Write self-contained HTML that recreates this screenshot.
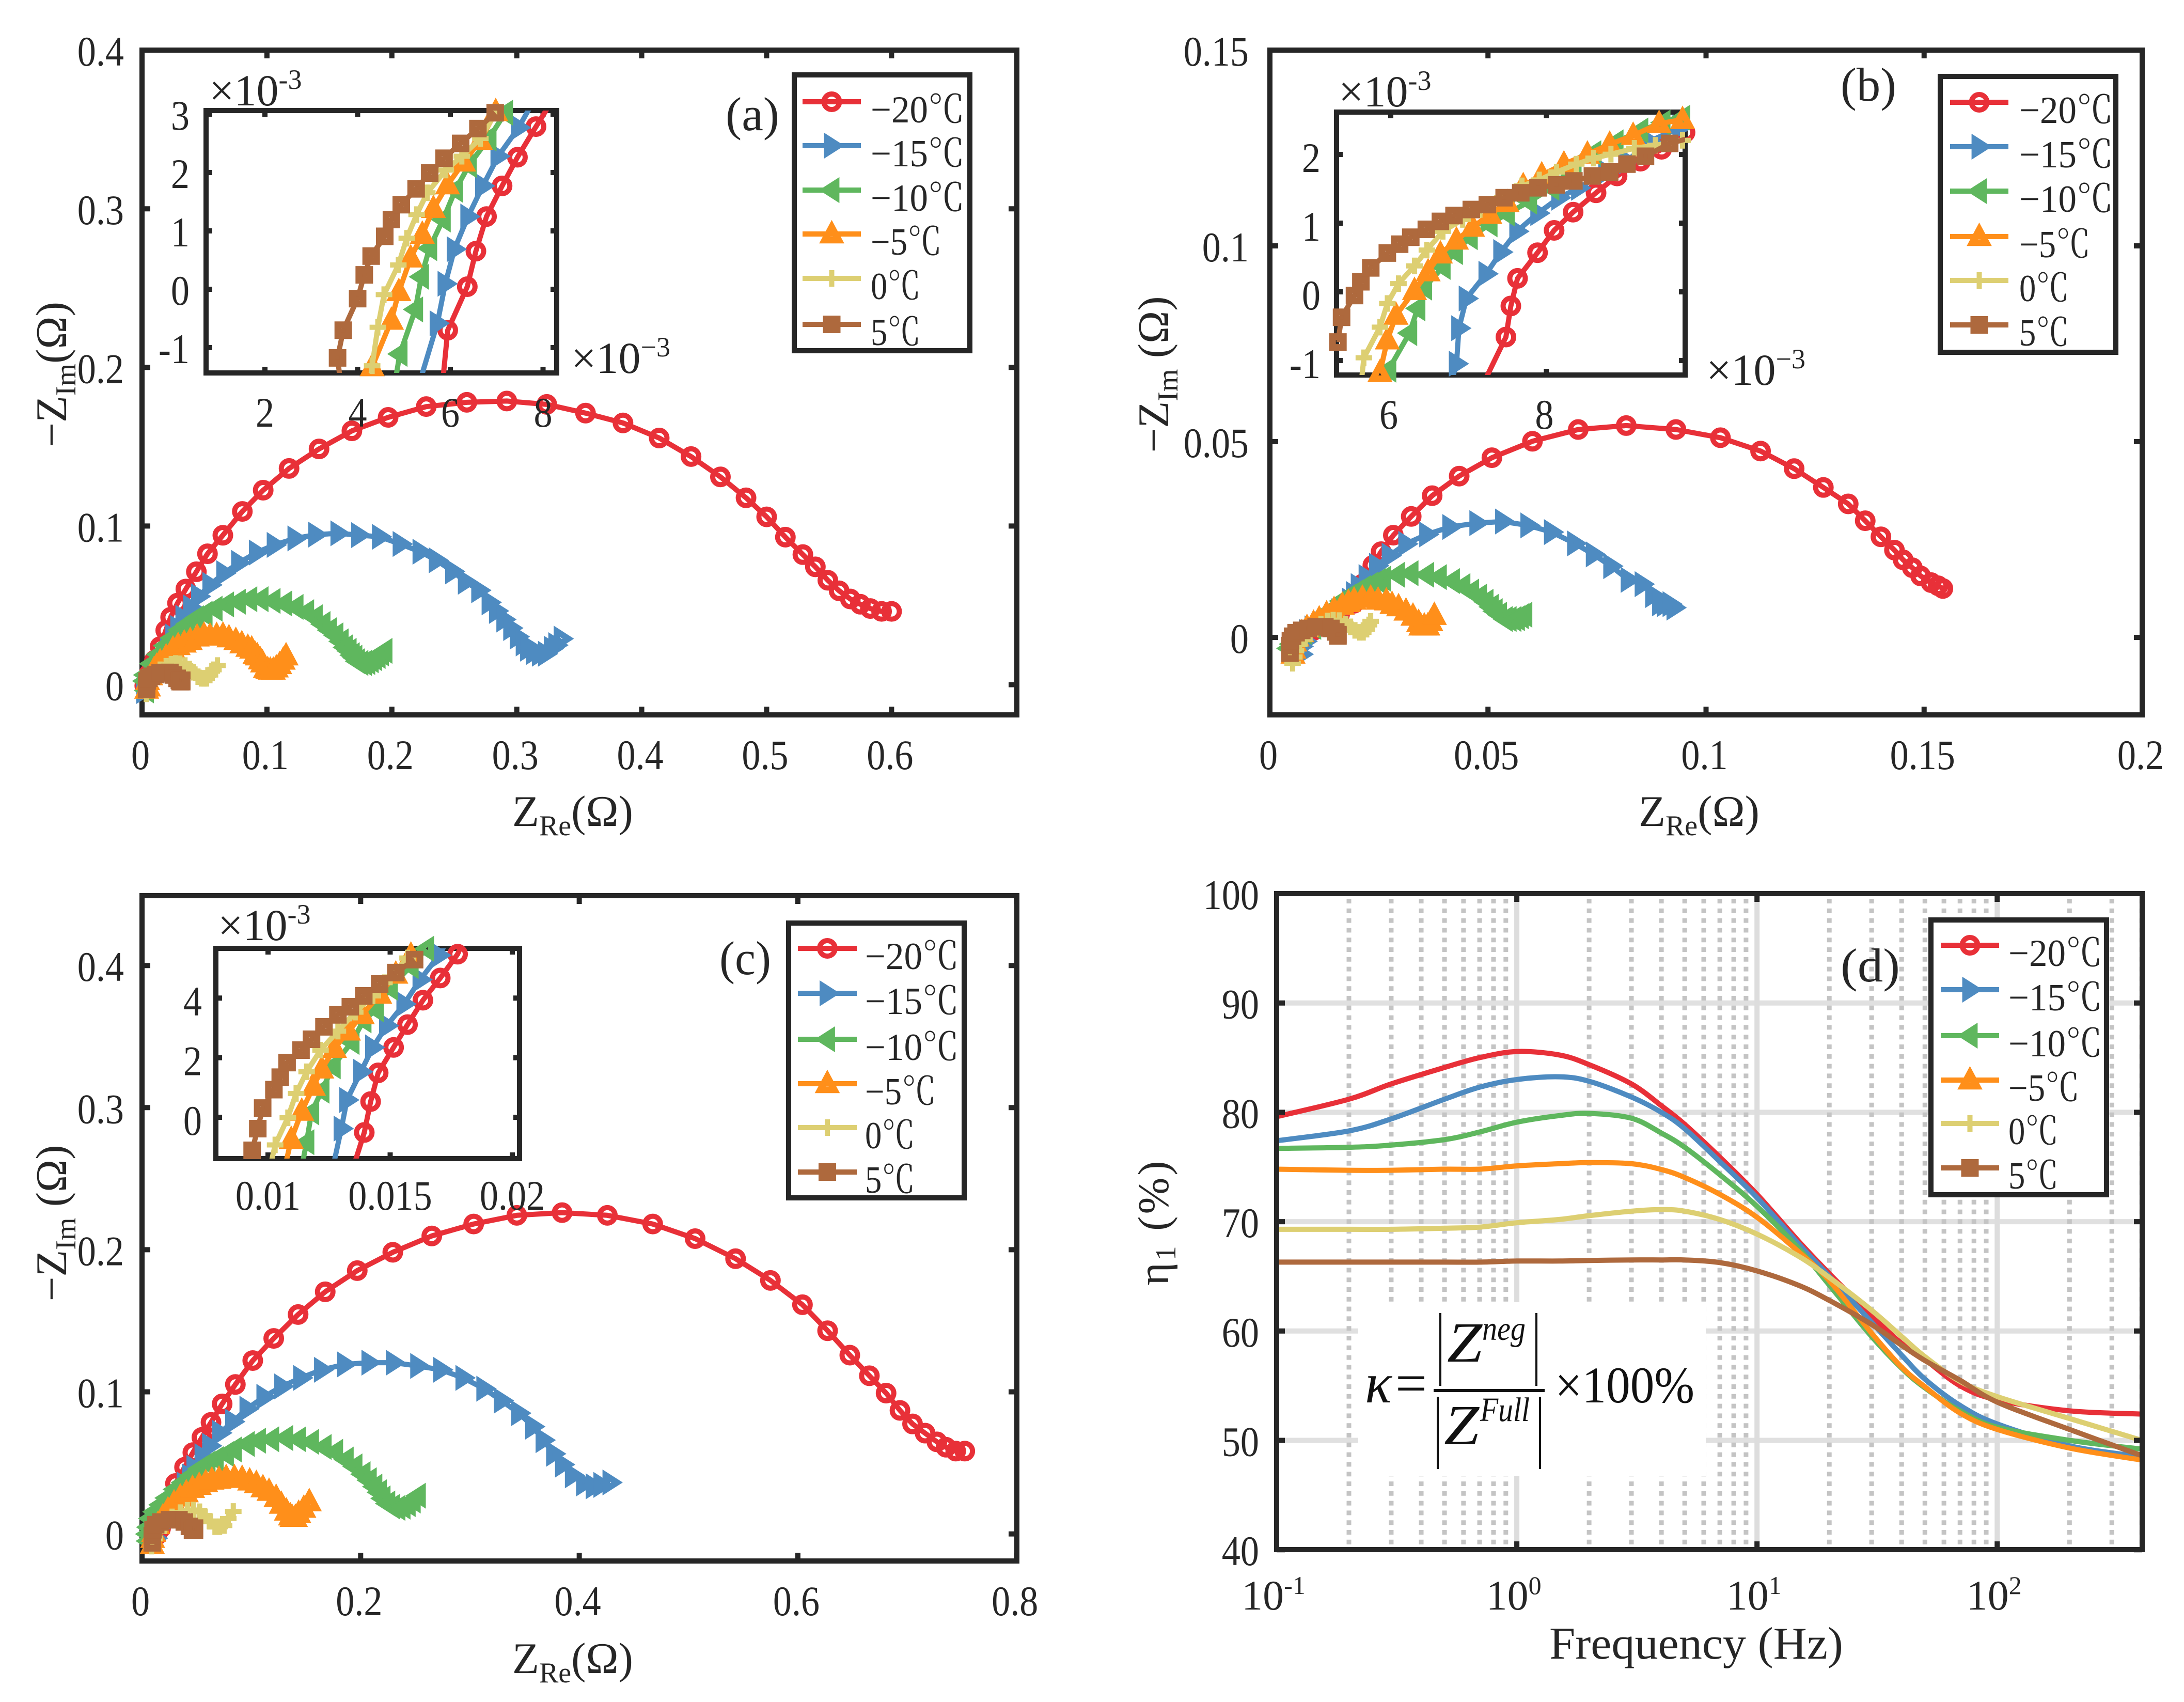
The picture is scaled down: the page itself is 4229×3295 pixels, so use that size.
<!DOCTYPE html>
<html lang="en">
<head>
<meta charset="utf-8">
<title>Impedance charts at six temperatures</title>
<style>
html,body{margin:0;padding:0;background:#fff}
svg{display:block}
text{font-family:"Liberation Serif","Noto Serif CJK SC",serif;fill:#262626}
</style>
</head>
<body>
<svg id="figure" xmlns="http://www.w3.org/2000/svg" width="4229" height="3295" viewBox="0 0 4229 3295">
<rect x="0" y="0" width="4229" height="3295" fill="#fff"/>
<g id="panel-a"></g>
<g id="panel-b"></g>
<g id="panel-c"></g>
<g id="panel-d"></g>
<g id="static-text" font-size="85">
  <text transform="translate(128,725) rotate(-90)" text-anchor="middle">−Z<tspan font-size="56" dy="18">Im</tspan><tspan dy="-18">(Ω)</tspan></text>
  <text x="1109" y="1599" text-anchor="middle">Z<tspan font-size="56" dy="18">Re</tspan><tspan dy="-18">(Ω)</tspan></text>
  <text x="1405" y="252" font-size="92" textLength="104" lengthAdjust="spacingAndGlyphs">(a)</text>
  <text x="405" y="204" font-size="86">×10<tspan font-size="54" dy="-32">-3</tspan></text>
  <text x="1106" y="722" font-size="86">×10<tspan font-size="54" dy="-32">−3</tspan></text>

  <text transform="translate(2262,725) rotate(-90)" text-anchor="middle">−Z<tspan font-size="56" dy="18">Im</tspan><tspan dy="-18"> (Ω)</tspan></text>
  <text x="3290" y="1599" text-anchor="middle">Z<tspan font-size="56" dy="18">Re</tspan><tspan dy="-18">(Ω)</tspan></text>
  <text x="3564" y="195" font-size="92" textLength="108" lengthAdjust="spacingAndGlyphs">(b)</text>
  <text x="2592" y="206" font-size="86">×10<tspan font-size="54" dy="-32">-3</tspan></text>
  <text x="3304" y="745" font-size="86">×10<tspan font-size="54" dy="-32">−3</tspan></text>

  <text transform="translate(128,2368) rotate(-90)" text-anchor="middle">−Z<tspan font-size="56" dy="18">Im</tspan><tspan dy="-18"> (Ω)</tspan></text>
  <text x="1109" y="3239" text-anchor="middle">Z<tspan font-size="56" dy="18">Re</tspan><tspan dy="-18">(Ω)</tspan></text>
  <text x="1393" y="1886" font-size="92" textLength="100" lengthAdjust="spacingAndGlyphs">(c)</text>
  <text x="422" y="1820" font-size="86">×10<tspan font-size="54" dy="-32">-3</tspan></text>

  <text transform="translate(2262,2366) rotate(-90)" text-anchor="middle" letter-spacing="4">η<tspan font-size="56" dy="14">1</tspan><tspan dy="-14">  (%)</tspan></text>
  <text x="3000" y="3211" font-size="88" textLength="569" lengthAdjust="spacingAndGlyphs">Frequency (Hz)</text>
  <text x="3564" y="1900" font-size="92" textLength="115" lengthAdjust="spacingAndGlyphs">(d)</text>
</g>
</svg>
<script>
/* ---------- series styling ---------- */
const seriesKeys = ['minus-20c','minus-15c','minus-10c','minus-5c','zero-c','plus-5c'];
const seriesLabels = ['−20℃','−15℃','−10℃','−5℃','0℃','5℃'];
const seriesColors = ['#e83038','#4e8bc1','#5fb75e','#ff8f1a','#ddcf72','#ae693d'];
const seriesMarkers = ['circle','triR','triL','triU','plus','square'];
const legendLabelWidths = [182,182,182,138,97,97];

/* ---------- panel (a) main ---------- */
const aXTicks = [0,0.1,0.2,0.3,0.4,0.5,0.6];
const aXTickLabels = ['0','0.1','0.2','0.3','0.4','0.5','0.6'];
const aYTicks = [0,0.1,0.2,0.3,0.4];
const aYTickLabels = ['0','0.1','0.2','0.3','0.4'];
const aRedX = [0.0022,0.0056,0.010,0.0145,0.019,0.0229,0.0284,0.0351,0.0435,0.0524,0.0647,0.0803,0.097,0.1177,0.1417,0.168,0.197,0.2275,0.26,0.292,0.324,0.355,0.385,0.414,0.4395,0.463,0.4835,0.5,0.515,0.529,0.539,0.549,0.558,0.567,0.575,0.583,0.592,0.600];
const aRedY = [-0.0007,0.0068,0.0154,0.024,0.0342,0.0425,0.0514,0.0603,0.0712,0.0825,0.0942,0.1092,0.1226,0.1363,0.1486,0.16,0.1685,0.1753,0.178,0.1788,0.1767,0.1712,0.165,0.1555,0.1438,0.131,0.1178,0.1058,0.093,0.082,0.0743,0.0658,0.0592,0.054,0.0507,0.048,0.0462,0.0462];
const aBlueX = [0.0015,0.0075,0.0146,0.0205,0.0248,0.0288,0.0329,0.039,0.0454,0.0545,0.0656,0.0775,0.0917,0.106,0.1226,0.1392,0.157,0.1736,0.1902,0.2068,0.2227,0.2357,0.2488,0.259,0.2697,0.278,0.2839,0.2898,0.2953,0.3005,0.3053,0.3088,0.3136,0.3183,0.3231,0.3278,0.3314,0.3357];
const aBlueY = [-0.004,0.0033,0.0119,0.0211,0.0303,0.0357,0.0422,0.0487,0.0557,0.0629,0.0703,0.0768,0.0833,0.0881,0.0922,0.0946,0.0954,0.0943,0.0932,0.0887,0.0838,0.0784,0.0714,0.0649,0.0595,0.0519,0.0465,0.0411,0.0357,0.0303,0.026,0.0227,0.0206,0.0195,0.0195,0.0227,0.0249,0.029];
const aGreenX = [0.0034,0.0021,0.0028,0.0076,0.0131,0.0186,0.0241,0.0303,0.0365,0.0434,0.0503,0.0583,0.0675,0.0769,0.0861,0.0951,0.1047,0.114,0.1231,0.1316,0.1385,0.1447,0.1499,0.155,0.1592,0.1626,0.1656,0.1681,0.1702,0.1723,0.175,0.1778,0.1805,0.1833,0.186,0.1888,0.1915,0.1943];
const aGreenY = [-0.0036,0.0023,0.0061,0.0132,0.0191,0.0246,0.0295,0.0344,0.0382,0.0419,0.0447,0.0479,0.0506,0.0523,0.0539,0.0539,0.0528,0.0512,0.049,0.0457,0.0425,0.0382,0.0344,0.0311,0.0273,0.0235,0.0213,0.0186,0.017,0.0148,0.0137,0.0137,0.0143,0.0154,0.0167,0.0181,0.0197,0.0213];
const aOrangeX = [0.0037,0.0052,0.0045,0.0069,0.0096,0.0117,0.0145,0.0193,0.0248,0.0289,0.0338,0.0386,0.0441,0.0496,0.0544,0.0597,0.0648,0.0696,0.0751,0.0799,0.0847,0.0878,0.0905,0.0923,0.0947,0.0965,0.0988,0.1006,0.1027,0.1051,0.1075,0.1102,0.113,0.1153];
const aOrangeY = [-0.0029,-0.0015,0.0025,0.0056,0.0094,0.0116,0.0143,0.0175,0.0224,0.0246,0.0262,0.0278,0.03,0.0311,0.0306,0.0309,0.0311,0.0295,0.0278,0.0257,0.0235,0.0224,0.0191,0.0181,0.0156,0.0137,0.0102,0.0094,0.0091,0.0091,0.0105,0.0126,0.0154,0.0181];
const aYellowX = [0.0034,0.0041,0.0048,0.0076,0.011,0.0145,0.0193,0.0234,0.0269,0.0303,0.0344,0.0379,0.0413,0.0448,0.0475,0.0496,0.0517,0.0544,0.0572,0.0604];
const aYellowY = [-0.0058,-0.0025,0.0001,0.004,0.0072,0.0094,0.0116,0.0129,0.0134,0.0132,0.0121,0.0099,0.0078,0.005,0.004,0.004,0.004,0.0061,0.0094,0.0121];
const aBrownX = [0.0036,0.0037,0.0041,0.0054,0.0076,0.011,0.0145,0.0186,0.0223,0.0252,0.0281,0.0299,0.0305,0.0318,0.0318];
const aBrownY = [-0.003,-0.0004,0.0023,0.004,0.0053,0.0064,0.0074,0.0077,0.0077,0.0061,0.004,0.0027,0.0019,0.0019,0.0028];

/* ---------- panel (a) inset, ×10^-3 ---------- */
const aiXTicks = [2,4,6,8];
const aiXTickLabels = ['2','4','6','8'];
const aiYTicks = [-1,0,1,2,3];
const aiYTickLabels = ['-1','0','1','2','3'];
const aiRedX = [5.82,5.944,6.366,6.552,6.781,7.117,7.448,7.848,8.167];
const aiRedY = [-1.72,-0.701,0.044,0.653,1.246,1.771,2.262,2.787,3.194];
const aiBlueX = [5.289,5.72,5.891,6.088,6.382,6.701,7.032,7.474,7.82];
const aiBlueY = [-1.72,-0.583,0.094,0.687,1.246,1.771,2.279,2.77,3.261];
const aiGreenX = [4.78,4.91,5.246,5.374,5.55,5.843,6.11,6.403,6.83,7.186,7.45];
const aiGreenY = [-1.72,-1.108,-0.346,0.213,0.704,1.195,1.703,2.127,2.584,3.024,3.3];
const aiOrangeX = [4.25,4.313,4.729,4.889,5.145,5.395,5.635,5.939,6.286,6.648,6.979];
const aiOrangeY = [-1.7,-1.328,-0.532,-0.041,0.535,0.941,1.382,1.788,2.178,2.55,3.041];
const aiYellowX = [4.25,4.313,4.436,4.569,4.878,5.06,5.273,5.502,5.902,6.248,6.648,6.979];
const aiYellowY = [-1.7,-1.311,-0.651,-0.092,0.416,0.874,1.28,1.653,2.042,2.279,2.584,3.024];
const aiBrownX = [3.65,3.567,3.69,4.0,4.143,4.292,4.585,4.729,4.942,5.262,5.555,5.864,6.222,6.595,6.968];
const aiBrownY = [-1.72,-1.176,-0.701,-0.16,0.247,0.569,0.907,1.195,1.449,1.72,1.991,2.245,2.499,2.753,3.024];

/* ---------- panel (b) main ---------- */
const bXTicks = [0,0.05,0.1,0.15,0.2];
const bXTickLabels = ['0','0.05','0.1','0.15','0.2'];
const bYTicks = [0,0.05,0.1,0.15];
const bYTickLabels = ['0','0.05','0.1','0.15'];
const bRedX = [0.010,0.013,0.016,0.0192,0.0212,0.0236,0.0255,0.0283,0.0324,0.0372,0.0434,0.0509,0.0602,0.0707,0.0817,0.0931,0.1033,0.1125,0.1202,0.1269,0.1326,0.1365,0.1401,0.1432,0.1452,0.1473,0.1492,0.1516,0.1532,0.1543];
const bRedY = [0.0018,0.0035,0.006,0.0087,0.0136,0.0184,0.0219,0.0261,0.0309,0.0362,0.0412,0.0459,0.0501,0.0531,0.0541,0.0531,0.051,0.0476,0.0431,0.0383,0.0341,0.0298,0.0257,0.0223,0.0198,0.0178,0.0157,0.014,0.0132,0.0125];
const bBlueX = [0.0072,0.0072,0.0081,0.0084,0.0097,0.0122,0.0139,0.0159,0.0183,0.0192,0.0203,0.0221,0.0245,0.0274,0.0312,0.036,0.0413,0.0475,0.0534,0.0592,0.0646,0.0699,0.0742,0.0782,0.0822,0.0854,0.0878,0.0894,0.0905,0.0918,0.0927];
const bBlueY = [-0.0043,-0.0023,-0.001,0.0014,0.0023,0.0034,0.0043,0.0067,0.0094,0.0111,0.0131,0.0154,0.0183,0.0209,0.0239,0.0263,0.0282,0.0292,0.0296,0.0286,0.0269,0.024,0.0212,0.0182,0.0147,0.0136,0.0108,0.0087,0.0085,0.0085,0.0076];
const bGreenX = [0.0043,0.0049,0.0062,0.0079,0.01,0.0121,0.0142,0.0164,0.018,0.0197,0.0214,0.0231,0.0248,0.026,0.0292,0.0323,0.0359,0.0388,0.0418,0.0442,0.0462,0.048,0.0495,0.0507,0.0516,0.0526,0.0539,0.0548,0.0559,0.0567,0.0576,0.0584];
const bGreenY = [-0.0028,-0.0017,0.0001,0.0014,0.0027,0.0049,0.0071,0.0093,0.0104,0.0115,0.0126,0.0135,0.0144,0.015,0.016,0.0164,0.016,0.0154,0.0144,0.0131,0.0117,0.0104,0.0091,0.0078,0.0067,0.0058,0.0047,0.0047,0.0047,0.0049,0.0054,0.0058];
const bOrangeX = [0.0053,0.0055,0.0057,0.0062,0.0073,0.0085,0.01,0.0113,0.013,0.0147,0.0166,0.018,0.0193,0.0212,0.0231,0.0248,0.0267,0.028,0.0295,0.0312,0.0328,0.0341,0.0346,0.0354,0.0362,0.0369,0.0377];
const bOrangeY = [-0.0043,-0.003,-0.0012,0.0001,0.0012,0.0025,0.0036,0.0047,0.006,0.0071,0.0082,0.0089,0.0095,0.01,0.01,0.0095,0.0093,0.0084,0.0078,0.0067,0.0054,0.0038,0.0029,0.0029,0.0029,0.004,0.0056];
const bYellowX = [0.0052,0.0056,0.006,0.0068,0.0079,0.0092,0.0104,0.0117,0.0132,0.0145,0.0159,0.0174,0.0185,0.0195,0.0206,0.0214,0.0222,0.0227,0.0231];
const bYellowY = [-0.0066,-0.005,-0.0034,-0.0017,-0.0004,0.001,0.0023,0.0034,0.0042,0.0044,0.0043,0.0034,0.0027,0.0018,0.0013,0.0013,0.0021,0.0032,0.0041];
const bBrownX = [0.0046,0.0046,0.0047,0.0052,0.006,0.0073,0.0088,0.0106,0.0126,0.014,0.0151,0.0156,0.0156];
const bBrownY = [-0.004,-0.0021,-0.0008,0.0003,0.0012,0.0018,0.0023,0.0027,0.0027,0.0023,0.0014,0.0004,0.0007];

/* ---------- panel (b) inset, ×10^-3 ---------- */
const biXTicks = [6,8];
const biXTickLabels = ['6','8'];
const biYTicks = [-1,0,1,2];
const biYTickLabels = ['-1','0','1','2'];
const biRedX = [7.178,7.48,7.543,7.629,7.886,8.099,8.343,8.638,8.908,9.21,9.48,9.781];
const biRedY = [-1.363,-0.658,-0.206,0.196,0.57,0.895,1.16,1.442,1.687,1.902,2.075,2.32];
const biBlueX = [6.765,6.845,6.876,6.972,7.226,7.416,7.622,7.892,8.162,8.416,8.765,9.035,9.321,9.718,9.94];
const biBlueY = [-1.363,-1.046,-0.529,-0.097,0.263,0.579,0.881,1.146,1.37,1.514,1.744,1.902,2.19,2.392,2.49];
const biGreenX = [5.9,5.972,6.241,6.346,6.432,6.67,6.829,7.019,7.273,7.495,7.781,8.067,8.353,8.606,8.892,9.21,9.495,9.749];
const biGreenY = [-1.4,-1.133,-0.601,-0.241,0.061,0.363,0.579,0.795,0.982,1.14,1.313,1.514,1.83,2.018,2.176,2.348,2.463,2.535];
const biOrangeX = [5.861,5.956,6.067,6.305,6.48,6.638,6.844,7.051,7.273,7.495,7.702,7.94,8.225,8.527,8.813,9.114,9.448,9.749];
const biOrangeY = [-1.176,-0.701,-0.342,0.018,0.291,0.55,0.752,0.939,1.126,1.298,1.543,1.701,1.859,2.003,2.147,2.276,2.449,2.507];
const biYellowX = [5.62,5.654,5.861,5.956,6.099,6.305,6.464,6.67,6.924,7.146,7.432,7.686,7.908,8.13,8.384,8.606,8.829,9.13,9.4,9.749];
const biYellowY = [-1.34,-0.96,-0.514,-0.169,0.119,0.378,0.608,0.881,1.054,1.198,1.37,1.543,1.629,1.744,1.859,1.946,2.003,2.09,2.133,2.205];
const biBrownX = [5.321,5.368,5.534,5.616,5.743,5.956,6.114,6.257,6.457,6.638,6.813,7.035,7.241,7.457,7.67,7.892,8.13,8.353,8.591,8.813,9.035,9.273,9.584,9.877];
const biBrownY = [-0.73,-0.37,-0.054,0.147,0.349,0.565,0.694,0.795,0.91,1.025,1.111,1.198,1.27,1.37,1.442,1.514,1.557,1.615,1.687,1.744,1.859,1.974,2.161,2.248];

/* ---------- panel (c) main ---------- */
const cXTicks = [0,0.2,0.4,0.6,0.8];
const cXTickLabels = ['0','0.2','0.4','0.6','0.8'];
const cYTicks = [0,0.1,0.2,0.3,0.4];
const cYTickLabels = ['0','0.1','0.2','0.3','0.4'];
const cRedX = [0.0135,0.017,0.020,0.025,0.0306,0.0389,0.0465,0.0548,0.0631,0.0733,0.0854,0.1013,0.1205,0.1428,0.1676,0.1969,0.2294,0.2651,0.3034,0.3429,0.3843,0.4257,0.4672,0.506,0.543,0.5749,0.6042,0.6272,0.6475,0.6654,0.6807,0.6934,0.7049,0.7164,0.7272,0.7355,0.7444,0.7527];
const cRedY = [-0.001,0.004,0.010,0.018,0.0355,0.0469,0.0572,0.0679,0.0785,0.0915,0.1052,0.122,0.1376,0.1544,0.1704,0.1853,0.1982,0.2097,0.2181,0.2242,0.2261,0.2242,0.2181,0.2078,0.1937,0.1784,0.1613,0.143,0.1258,0.1113,0.0991,0.0869,0.0774,0.0709,0.0648,0.061,0.0583,0.0583];
const cBlueX = [0.0125,0.015,0.018,0.022,0.027,0.0327,0.0387,0.0434,0.0477,0.0551,0.062,0.0713,0.0831,0.0962,0.1117,0.128,0.1453,0.1644,0.1855,0.2078,0.2301,0.2524,0.2734,0.2938,0.3129,0.3289,0.3448,0.3576,0.3671,0.3767,0.3849,0.3939,0.4041,0.413,0.42,0.4283];
const cBlueY = [-0.003,0.004,0.010,0.017,0.021,0.0257,0.0348,0.0405,0.0465,0.0547,0.062,0.0711,0.079,0.0881,0.0965,0.1038,0.1098,0.1155,0.1193,0.1205,0.1205,0.1182,0.1155,0.1098,0.1022,0.0938,0.085,0.0755,0.066,0.0564,0.0488,0.0412,0.0355,0.0335,0.0345,0.0362];
const cGreenX = [0.0056,0.0051,0.006,0.0078,0.0116,0.0172,0.0228,0.0303,0.0378,0.0452,0.0527,0.0602,0.0677,0.077,0.0843,0.0961,0.1063,0.1184,0.1312,0.1431,0.1549,0.1664,0.1769,0.1866,0.1946,0.202,0.2077,0.2128,0.2169,0.2203,0.2246,0.2292,0.2339,0.2386,0.2433,0.2479,0.2526];
const cGreenY = [-0.005,-0.0001,0.0047,0.0108,0.0156,0.0205,0.0253,0.0314,0.0362,0.0411,0.0459,0.0495,0.0526,0.0562,0.0594,0.0633,0.0656,0.0666,0.0675,0.0666,0.0648,0.0612,0.0578,0.0523,0.0475,0.042,0.0378,0.0333,0.0293,0.025,0.0214,0.0192,0.0183,0.0192,0.021,0.0235,0.0269];
const cOrangeX = [0.0094,0.0097,0.0107,0.0144,0.0191,0.0237,0.0293,0.035,0.0405,0.0462,0.0523,0.0583,0.0639,0.0704,0.077,0.0845,0.0916,0.0985,0.1046,0.1106,0.1162,0.1227,0.1274,0.1321,0.1358,0.1373,0.1403,0.1433,0.148,0.153];
const cOrangeY = [-0.0074,-0.0032,0.0011,0.0065,0.012,0.0168,0.0217,0.0259,0.0289,0.032,0.0341,0.036,0.0378,0.0384,0.0396,0.0396,0.039,0.0372,0.0354,0.0324,0.0299,0.0257,0.0208,0.016,0.0126,0.0116,0.0116,0.0144,0.018,0.0226];
const cYellowX = [0.0088,0.0116,0.0153,0.0209,0.0275,0.035,0.0415,0.0471,0.0527,0.0574,0.062,0.0667,0.071,0.0751,0.0789,0.0835];
const cYellowY = [-0.0086,-0.0032,0.0017,0.0071,0.012,0.015,0.0166,0.0168,0.0156,0.0126,0.0089,0.0051,0.0051,0.0059,0.0108,0.0158];
const cBrownX = [0.0094,0.0094,0.0101,0.0125,0.0172,0.0252,0.0338,0.0387,0.0434,0.0462,0.048,0.048];
const cBrownY = [-0.0063,-0.0013,0.0029,0.0065,0.0084,0.01,0.01,0.0084,0.0053,0.0027,0.0027,0.0041];

/* ---------- panel (c) inset, ×10^-3 ---------- */
const ciXTicks = [10,15,20];
const ciXTickLabels = ['0.01','0.015','0.02'];
const ciYTicks = [0,2,4];
const ciYTickLabels = ['0','2','4'];
const ciRedX = [13.29,13.94,14.2,14.51,15.14,15.71,16.34,17.05,17.76,18.13];
const ciRedY = [-2.2,-0.51,0.527,1.491,2.345,3.109,3.927,4.672,5.472,6.16];
const ciBlueX = [12.52,13.0,13.23,13.8,14.29,14.86,15.57,16.23,17.0,17.5];
const ciBlueY = [-2.2,-0.38,0.58,1.527,2.345,3.072,3.8,4.618,5.436,6.16];
const ciGreenX = [11.3,11.58,11.78,12.2,12.66,13.43,13.92,14.43,15.0,15.85,16.48];
const ciGreenY = [-2.0,-0.836,0.164,0.89,1.709,2.527,3.254,3.618,4.345,5.072,5.654];
const ciOrangeX = [10.6,10.95,11.38,11.86,12.2,12.72,13.29,13.86,14.57,15.23,15.85];
const ciOrangeY = [-2.0,-0.745,0.2,1.036,1.618,2.309,2.89,3.436,4.127,4.8,5.436];
const ciYellowX = [10.0,10.29,10.81,11.15,11.58,12.15,12.86,13.57,14.29,15,15.71];
const ciYellowY = [-2.0,-0.927,-0.018,0.8,1.527,2.254,2.89,3.527,4.072,4.708,5.345];
const ciBrownX = [9.2,9.35,9.58,9.78,10.24,10.5,10.78,11.35,11.78,12.29,12.86,13.37,13.92,14.57,15.23,16.0];
const ciBrownY = [-2.0,-1.109,-0.382,0.309,0.927,1.345,1.836,2.254,2.618,3.036,3.436,3.709,4.072,4.472,4.854,5.29];

/* ---------- panel (d) ---------- */
const dFrequency = [0.1,0.2,0.3,0.5,0.7,1,1.5,2,3,4,5,7,10,15,20,30,40,50,70,100,200,400];
const dRed = [79.6,81.2,82.6,84.1,85.0,85.56,85.25,84.36,82.6,80.6,78.9,75.9,72.5,68.14,65.25,61.4,58.86,57.4,55,53.7,52.7,52.4];
const dBlue = [77.4,78.3,79.4,81.2,82.3,83.0,83.25,82.84,81.4,80.0,78.5,75.5,72.2,67.9,65,60.8,57.8,55.6,53.2,51.5,49.5,48.5];
const dGreen = [76.7,76.8,77,77.5,78.2,79.1,79.7,79.9,79.46,78.1,76.8,74.3,71.4,67.5,64.2,59.5,56.6,54.8,52.7,51.2,50,49.2];
const dOrange = [74.8,74.7,74.7,74.8,74.8,75.1,75.3,75.4,75.3,74.77,74.04,72.5,70.4,67.2,64.6,59.8,56.7,54.9,52.5,51,49.3,48.2];
const dYellow = [69.3,69.3,69.3,69.4,69.5,69.9,70.2,70.55,70.96,71.1,70.96,70.2,68.86,66.8,64.9,61.9,59.5,57.65,55.4,54,52,50];
const dBrown = [66.3,66.3,66.3,66.3,66.3,66.4,66.4,66.45,66.5,66.5,66.5,66.26,65.5,64.15,62.8,60.6,58.7,57.3,55.5,53.5,51,48.6];
const dYTicks = [40,50,60,70,80,90,100];
const dYTickLabels = ['40','50','60','70','80','90','100'];
const dXDecades = [-1,0,1,2];
const dXExponentLabels = ['-1','0','1','2'];
const dMinorMultipliers = [2,3,4,5,6,7,8,9];

/* ---------- drawing helpers ---------- */
const SVGNS = 'http://www.w3.org/2000/svg';
const AXIS = '#262626';
const MARKER_PATHS = {
  triR:'M-8.9,-14.2L13.3,0L-8.9,14.2Z',
  triL:'M8.9,-14.2L-13.3,0L8.9,14.2Z',
  triU:'M0,-13.5L13.5,11.8L-13.5,11.8Z',
  plus:'M-16,0H16M0,-16V16',
  square:'M-10.5,-10.5H10.5V10.5H-10.5Z'
};
const MARKER_STROKES = {triR:12, triL:12, triU:13, plus:10, square:13};
function linear(d0, r0, k){ return v => r0 + (v - d0) * k; }
function make(tag, parent, attrs){
  const el = document.createElementNS(SVGNS, tag);
  for (const k in attrs) el.setAttribute(k, attrs[k]);
  parent.appendChild(el);
  return el;
}
function addMarker(parent, idx, cx, cy, name){
  const type = seriesMarkers[idx];
  const color = seriesColors[idx];
  let el;
  if (type === 'circle') {
    el = make('ellipse', parent, {cx:0, cy:0, rx:15, ry:15, fill:'none', stroke:color, 'stroke-width':10});
  } else {
    el = make('path', parent, {d:MARKER_PATHS[type], fill:'none', stroke:color, 'stroke-width':MARKER_STROKES[type], 'stroke-miterlimit':10});
  }
  el.setAttribute('transform', 'translate(' + cx + ',' + cy + ')');
  
  
}
function drawAxesBox(g, frame, xTicks, yTicks, xf, yf, tickLen, sw, prefix){
  const box = make('rect', g, {x:frame[0], y:frame[1], width:frame[2]-frame[0], height:frame[3]-frame[1], fill:'none', stroke:AXIS, 'stroke-width':sw});
  
  
  xTicks.forEach(v => {
    const px = xf(v);
    const t = make('path', g, {d:'M'+px+','+frame[3]+'v'+(-tickLen)+'M'+px+','+frame[1]+'v'+tickLen, stroke:AXIS, 'stroke-width':sw, fill:'none'});
    
    
  });
  yTicks.forEach(v => {
    const py = yf(v);
    const t = make('path', g, {d:'M'+frame[0]+','+py+'h'+tickLen+'M'+frame[2]+','+py+'h'+(-tickLen), stroke:AXIS, 'stroke-width':sw, fill:'none'});
    
    
  });
}
function labelWidth(s, size){
  let em = 0;
  for (const ch of s) em += ch === '.' ? 0.25 : (ch === '-' ? 0.333 : 0.5);
  return em * size * 0.88;
}
function drawTickText(g, values, labels, fx, fy, anchor, prefix){
  values.forEach((v, i) => {
    const t = make('text', g, {x:fx(v), y:fy(v), 'text-anchor':anchor, 'font-size':82, textLength:labelWidth(labels[i], 82).toFixed(1), lengthAdjust:'spacingAndGlyphs'});
    t.textContent = labels[i];
    
    
  });
}
function drawSeries(g, xs, ys, xf, yf, idx, prefix, frame, clipId){
  const key = prefix + '-' + seriesKeys[idx];
  let d = '';
  xs.forEach((v, i) => { d += (i ? 'L' : 'M') + xf(v).toFixed(1) + ',' + yf(ys[i]).toFixed(1); });
  const line = make('path', g, {d:d, fill:'none', stroke:seriesColors[idx], 'stroke-width':10, 'stroke-linejoin':'round'});
  if (clipId) line.setAttribute('clip-path', 'url(#' + clipId + ')');
  
  
  xs.forEach((v, i) => {
    const px = xf(v), py = yf(ys[i]);
    if (frame && (px < frame[0]-1 || px > frame[2]+1 || py < frame[1]-1 || py > frame[3]+1)) return;
    addMarker(g, idx, px, py, key);
  });
}
function drawLegend(g, box, lineX0, lineX1, textX, rows, prefix){
  const r = make('rect', g, {x:box[0], y:box[1], width:box[2]-box[0], height:box[3]-box[1], fill:'#fff', stroke:AXIS, 'stroke-width':10});
  
  
  rows.forEach((y, i) => {
    const l = make('line', g, {x1:lineX0, x2:lineX1, y1:y, y2:y, stroke:seriesColors[i], 'stroke-width':10});
    
    
    addMarker(g, i, (lineX0 + lineX1) / 2, y, prefix + '-legend');
    const t = make('text', g, {x:textX, y:y + 40, 'font-size':74, textLength:legendLabelWidths[i], lengthAdjust:'spacingAndGlyphs'});
    t.textContent = seriesLabels[i];
    
    
  });
}
function addClip(svg, id, frame){
  const cp = make('clipPath', svg, {id:id});
  make('rect', cp, {x:frame[0], y:frame[1], width:frame[2]-frame[0], height:frame[3]-frame[1]});
}

const figure = document.getElementById('figure');

/* ---------- panel (a) ---------- */
(function(){
  const g = document.getElementById('panel-a');
  const frame = [275,97,1969,1384];
  const x = linear(0,275,2419), y = linear(0,1325.5,-3071);
  drawAxesBox(g, frame, aXTicks, aYTicks, x, y, 16, 10, 'panel-a');
  drawTickText(g, aXTicks, aXTickLabels, v => x(v) - 3, () => 1489, 'middle', 'panel-a-x');
  drawTickText(g, aYTicks, aYTickLabels, () => 240, v => y(v) + 30, 'end', 'panel-a-y');
  [[aRedX,aRedY],[aBlueX,aBlueY],[aGreenX,aGreenY],[aOrangeX,aOrangeY],[aYellowX,aYellowY],[aBrownX,aBrownY]]
    .forEach((s,i) => drawSeries(g, s[0], s[1], x, y, i, 'panel-a', null, null));
  const inF = [399,214,1078,722];
  const ix = linear(2,513,89.75), iy = linear(0,560,-113);
  addClip(figure, 'clip-a', inF);
  drawAxesBox(g, inF, aiXTicks, aiYTicks, ix, iy, 12, 10, 'panel-a-inset');
  drawTickText(g, aiXTicks, aiXTickLabels, v => ix(v), () => 826, 'middle', 'panel-a-inset-x');
  drawTickText(g, aiYTicks, aiYTickLabels, () => 367, v => iy(v) + 30, 'end', 'panel-a-inset-y');
  [[aiRedX,aiRedY],[aiBlueX,aiBlueY],[aiGreenX,aiGreenY],[aiOrangeX,aiOrangeY],[aiYellowX,aiYellowY],[aiBrownX,aiBrownY]]
    .forEach((s,i) => drawSeries(g, s[0], s[1], ix, iy, i, 'panel-a-inset', inF, 'clip-a'));
  drawLegend(g, [1538,145,1878,679], 1554, 1667, 1686, [197,282,368,453,539,628], 'panel-a');
})();

/* ---------- panel (b) ---------- */
(function(){
  const g = document.getElementById('panel-b');
  const frame = [2459,97,4148,1384];
  const x = linear(0,2459,8445), y = linear(0,1234,-7580);
  drawAxesBox(g, frame, bXTicks, bYTicks, x, y, 16, 10, 'panel-b');
  drawTickText(g, bXTicks, bXTickLabels, v => x(v) - 3, () => 1489, 'middle', 'panel-b-x');
  drawTickText(g, bYTicks, bYTickLabels, () => 2418, v => y(v) + 30, 'end', 'panel-b-y');
  [[bRedX,bRedY],[bBlueX,bBlueY],[bGreenX,bGreenY],[bOrangeX,bOrangeY],[bYellowX,bYellowY],[bBrownX,bBrownY]]
    .forEach((s,i) => drawSeries(g, s[0], s[1], x, y, i, 'panel-b', null, null));
  const inF = [2588,217,3263,726];
  const ix = linear(6,2693,150.7), iy = linear(0,565,-133);
  addClip(figure, 'clip-b', inF);
  drawAxesBox(g, inF, biXTicks, biYTicks, ix, iy, 12, 10, 'panel-b-inset');
  drawTickText(g, biXTicks, biXTickLabels, v => ix(v) - 4, () => 830, 'middle', 'panel-b-inset-x');
  drawTickText(g, biYTicks, biYTickLabels, () => 2557, v => iy(v) + 34, 'end', 'panel-b-inset-y');
  [[biRedX,biRedY],[biBlueX,biBlueY],[biGreenX,biGreenY],[biOrangeX,biOrangeY],[biYellowX,biYellowY],[biBrownX,biBrownY]]
    .forEach((s,i) => drawSeries(g, s[0], s[1], ix, iy, i, 'panel-b-inset', inF, 'clip-b'));
  drawLegend(g, [3757,148,4097,682], 3776, 3889, 3910, [198,284,370,458,543,629], 'panel-b');
})();

/* ---------- panel (c) ---------- */
(function(){
  const g = document.getElementById('panel-c');
  const frame = [275,1734,1969,3022];
  const x = linear(0,275,2116.6), y = linear(0,2969.6,-2751);
  drawAxesBox(g, frame, cXTicks, cYTicks, x, y, 16, 10, 'panel-c');
  drawTickText(g, cXTicks, cXTickLabels, v => x(v) - 3, () => 3127, 'middle', 'panel-c-x');
  drawTickText(g, cYTicks, cYTickLabels, () => 240, v => y(v) + 30, 'end', 'panel-c-y');
  [[cRedX,cRedY],[cBlueX,cBlueY],[cGreenX,cGreenY],[cOrangeX,cOrangeY],[cYellowX,cYellowY],[cBrownX,cBrownY]]
    .forEach((s,i) => drawSeries(g, s[0], s[1], x, y, i, 'panel-c', null, null));
  const inF = [418,1836,1006,2243];
  const ix = linear(10,519,47.3), iy = linear(0,2163,-57.7);
  addClip(figure, 'clip-c', inF);
  drawAxesBox(g, inF, ciXTicks, ciYTicks, ix, iy, 12, 10, 'panel-c-inset');
  drawTickText(g, ciXTicks, ciXTickLabels, v => ix(v), () => 2342, 'middle', 'panel-c-inset-x');
  drawTickText(g, ciYTicks, ciYTickLabels, () => 391, v => iy(v) + 34, 'end', 'panel-c-inset-y');
  [[ciRedX,ciRedY],[ciBlueX,ciBlueY],[ciGreenX,ciGreenY],[ciOrangeX,ciOrangeY],[ciYellowX,ciYellowY],[ciBrownX,ciBrownY]]
    .forEach((s,i) => drawSeries(g, s[0], s[1], ix, iy, i, 'panel-c-inset', inF, 'clip-c'));
  drawLegend(g, [1527,1787,1867,2319], 1545, 1659, 1675, [1836,1923,2012,2098,2183,2269], 'panel-c');
})();

/* ---------- panel (d) ---------- */
(function(){
  const g = document.getElementById('panel-d');
  const frame = [2472,1730,4148,3000];
  const x = f => 2472 + (Math.log10(f) + 1) * 465.1;
  const y = linear(100,1730,-21.17);
  dYTicks.forEach(v => {
    if (v === 40 || v === 100) return;
    const l = make('line', g, {x1:frame[0], x2:frame[2], y1:y(v), y2:y(v), stroke:'#e0e0e0', 'stroke-width':10});
    
    
  });
  dXDecades.forEach(e => {
    dMinorMultipliers.forEach(m => {
      const f = m * Math.pow(10, e);
      if (f > 400) return;
      const l = make('line', g, {x1:x(f), x2:x(f), y1:frame[1]+10, y2:frame[3]-10, stroke:'#c4c4c4', 'stroke-width':9, 'stroke-dasharray':'9 9.8'});
      
      
    });
    if (e >= 0) {
      const l = make('line', g, {x1:x(Math.pow(10,e)), x2:x(Math.pow(10,e)), y1:frame[1], y2:frame[3], stroke:'#dddddd', 'stroke-width':10});
      
      
    }
  });
  addClip(figure, 'clip-d', frame);
  [dRed,dBlue,dGreen,dOrange,dYellow,dBrown].forEach((vals, i) => {
    const pts = dFrequency.map((f, k) => [x(f), y(vals[k])]);
    let d = 'M' + pts[0][0] + ',' + pts[0][1];
    for (let k = 0; k < pts.length - 1; k++) {
      const p0 = pts[Math.max(k-1,0)], p1 = pts[k], p2 = pts[k+1], p3 = pts[Math.min(k+2,pts.length-1)];
      d += 'C' + (p1[0]+(p2[0]-p0[0])/6).toFixed(1) + ',' + (p1[1]+(p2[1]-p0[1])/6).toFixed(1) + ' ' +
           (p2[0]-(p3[0]-p1[0])/6).toFixed(1) + ',' + (p2[1]-(p3[1]-p1[1])/6).toFixed(1) + ' ' +
           p2[0].toFixed(1) + ',' + p2[1].toFixed(1);
    }
    const c = make('path', g, {d:d, fill:'none', stroke:seriesColors[i], 'stroke-width':10, 'clip-path':'url(#clip-d)'});
    
    
  });
  const xMajor = dXDecades.map(e => Math.pow(10, e));
  drawAxesBox(g, frame, xMajor, dYTicks, x, y, 16, 10, 'panel-d');
  drawTickText(g, dYTicks, dYTickLabels, () => 2438, v => y(v) + 30, 'end', 'panel-d-y');
  dXDecades.forEach((e, i) => {
    const t = make('text', g, {x:x(Math.pow(10,e)) - 6, y:3116, 'text-anchor':'middle', 'font-size':82});
    
    
    t.textContent = '10';
    const s = make('tspan', t, {'font-size':50, dy:-30});
    s.textContent = dXExponentLabels[i];
  });
  const eq = make('rect', g, {x:2630, y:2521, width:673, height:336, fill:'#fff'});
  
  
  const eqGroup = make('g', g, {});
  
  
  [[2776,2692,2991,2692,6],[2789,2542,2789,2683,4],[2975,2542,2975,2683,4],[2784,2704,2784,2844,4],[2982,2704,2982,2844,4]].forEach(b => {
    make('line', eqGroup, {x1:b[0], y1:b[1], x2:b[2], y2:b[3], stroke:'#111', 'stroke-width':b[4]});
  });
  const eqTexts = [
    ['κ=', 2643, 2715, 110, 'italic', 125],
    ['Z', 2802, 2636, 110, 'italic', 68],
    ['neg', 2870, 2594, 66, 'italic', 84],
    ['Z', 2796, 2796, 110, 'italic', 68],
    ['Full', 2866, 2751, 66, 'italic', 96],
    ['×100%', 3011, 2715, 100, 'normal', 270]
  ];
  eqTexts.forEach(e => {
    const t = make('text', eqGroup, {x:e[1], y:e[2], 'font-size':e[3], 'font-style':e[4], textLength:e[5], lengthAdjust:'spacingAndGlyphs', style:'fill:#111'});
    t.textContent = e[0];
  });
  drawLegend(g, [3739,1781,4079,2313], 3758, 3871, 3889, [1830,1916,2005,2091,2175,2261], 'panel-d');
})();
</script>
</body>
</html>
